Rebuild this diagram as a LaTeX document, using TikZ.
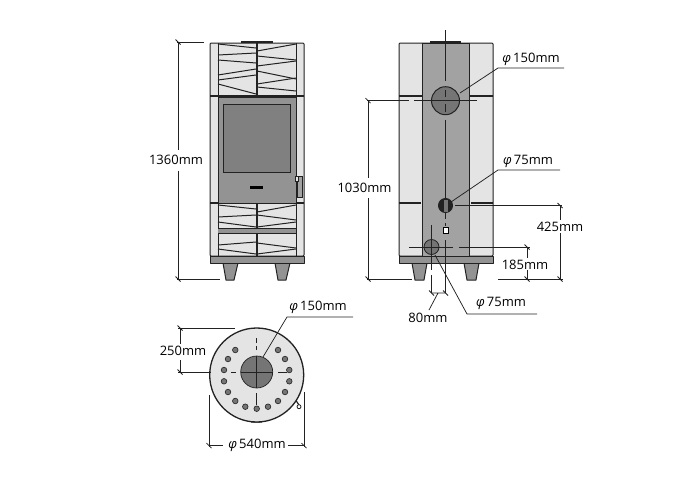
\documentclass[tikz,border=0pt]{standalone}
\usepackage{fontspec}
\setmainfont{Open Sans}
\usetikzlibrary{positioning}
\definecolor{cuerpo}{HTML}{E4E4E4}
\definecolor{centro}{HTML}{A2A2A2}
\definecolor{puerta}{HTML}{939393}
\definecolor{vidrio}{HTML}{808080}
\definecolor{tubo}{HTML}{757575}
\definecolor{linea}{HTML}{222222}
\tikzstyle{contorno} = [draw=linea, line width=1pt, line join=round]
\tikzstyle{zigzag} = [draw=linea, line width=1pt]
\tikzstyle{cota} = [draw=linea, line width=0.75pt]
\tikzstyle{medida} = [text=black, font=\fontsize{13}{15}\selectfont, inner sep=0pt]
\newcommand{\diam}{\textit{φ}\,}
\begin{document}
\begin{tikzpicture}[x=1pt,y=-1pt]
	\useasboundingbox (0,0) rectangle (700,480);
	\fill[white] (0,0) rectangle (700,480);
	% frente
	\foreach \xa/\xb in {223/238,275/290}{
		\pgfmathsetmacro{\xc}{\xa+3}
		\pgfmathsetmacro{\xd}{\xb-4}
		\draw[contorno, fill=puerta] (\xa,263) -- (\xc,280) -- (\xd,280) -- (\xb,263) -- cycle;
	}
	\draw[contorno, fill=cuerpo, rounded corners=1pt] (210,43) rectangle (304,256);
	\draw[contorno, fill=puerta] (210,256) rectangle (304,263);
	\draw[contorno, line width=1.5pt] (241,42) -- (273,42);
	\foreach \ya/\yb in {44/48,55/53,60/63,75/69,80/75,84/94,205/209,217/215,222/227,245/242,249/254}{
		\draw[zigzag] (218,\ya) -- (256,\yb);
	}
	\foreach \ya/\yb in {51/44,56/60,66/61,71/79,84/78,87/91,212/205,215/220,227/222,243/248,254/249}{
		\draw[zigzag] (257,\ya) -- (296,\yb);
	}
	\draw[zigzag] (218,43) -- (218,256) (296,43) -- (296,256);
	\draw[contorno, line width=1.4pt] (257,43) -- (257,96) (257,203) -- (257,256);
	\draw[contorno, line width=1.4pt] (210,96) -- (304,96) (210,203) -- (304,203);
	\draw[contorno, fill=puerta] (218,97) rectangle (296,203);
	\draw[draw=linea, fill=vidrio, line width=0.8pt] (223,104) rectangle (290,172);
	\fill[black] (250,186) rectangle (263,188.5);
	\draw[draw=linea, fill=centro, line width=0.7pt] (297,176) rectangle (302,197);
	\draw[draw=linea, fill=cuerpo, line width=0.5pt] (295,176) rectangle (298,181);
	\fill[puerta] (218,228) rectangle (296,233);
	\draw[zigzag] (218,228) -- (296,228) (218,233) -- (296,233);
	% lado
	\foreach \xa/\xb in {412/427,464/479}{
		\pgfmathsetmacro{\xc}{\xa+3}
		\pgfmathsetmacro{\xd}{\xb-3}
		\draw[contorno, fill=puerta] (\xa,263) -- (\xc,280) -- (\xd,280) -- (\xb,263) -- cycle;
	}
	\draw[contorno, fill=cuerpo, rounded corners=1pt] (399,43) rectangle (493,256);
	\draw[contorno, fill=centro] (422,43) rectangle (469,256);
	\draw[contorno, fill=puerta] (399,256) rectangle (493,263);
	\draw[contorno, line width=1.5pt] (430,42) -- (461,42);
	\draw[contorno, line width=1.4pt] (399,96) -- (422,96) (469,96) -- (493,96) (399,203) -- (421,203) (471,203) -- (493,203);
	\draw[cota] (445.5,30) -- (445.5,81) (445.5,120) -- (445.5,198) (445.5,213) -- (445.5,219) (445.5,240) -- (445.5,293);
	\draw[cota] (445.5,223) -- (445.5,226);
	\draw[contorno, fill=tubo] (445.5,100.7) circle (14);
	\draw[cota] (445.5,90) -- (445.5,97) (445.5,104) -- (445.5,112) (433,100.7) -- (441,100.7) (450,100.7) -- (458,100.7);
	\draw[contorno, line width=1pt, fill=linea] (445.5,205.5) circle (7);
	\fill[tubo] (443.5,199.5) rectangle (447.5,211.5);
	\draw[draw=black, fill=white, line width=1pt] (443,227) rectangle (448,233);
	\draw[contorno, fill=tubo, line width=0.8pt] (431.5,247) circle (7.5);
	\draw[cota] (431.5,225) -- (431.5,270) (431.5,275) -- (431.5,293);
	% planta
	\draw[contorno, line width=1.2pt] (295,399) -- (299,405);
	\draw[contorno, line width=0.8pt, fill=white] (299,406.7) circle (2);
	\fill[tubo] (251,420) rectangle (262,423);
	\draw[contorno, line width=1.3pt, fill=cuerpo] (256.7,375) circle (47);
	\draw[contorno, fill=tubo, line width=0.7pt] (256.7,372) circle (16);
	\foreach \hx/\hy in {235.3/350,228/359,224/370,224/381.3,228/392,235.3/401,245.3/406.7,256.7/408.7,268/406.7,278/401,285/392,289.3/381.3,289.3/370,285/359,278/350}{
		\draw[draw=linea, fill=tubo, line width=0.6pt] (\hx,\hy) circle (2.8);
	}
	\draw[cota] (231,372) -- (236,372) (241,372) -- (272.7,372) (278,372) -- (287,372);
	\draw[cota] (256.7,338) -- (256.7,343) (256.7,346) -- (256.7,350) (256.7,356) -- (256.7,388) (256.7,393) -- (256.7,405);
	% cotas
	\draw[cota] (177,42) -- (204,42) (177,279) -- (220,279);
	\draw[cota] (178,42) -- (178,150) (178,171) -- (178,279);
	\draw[cota] (367,100.7) -- (409,100.7) (414,100.7) -- (477,100.7) (367,279) -- (412,279);
	\draw[cota] (368,100.7) -- (368,178) (368,198) -- (368,279);
	\draw[cota] (409,247) -- (453,247) (459,247) -- (530,247) (455,205.5) -- (562,205.5) (498,279) -- (563,279);
	\draw[cota] (527,247) -- (527,258) (527,270) -- (527,279);
	\draw[cota] (560,205.5) -- (560,220) (560,233) -- (560,279);
	\draw[cota] (431.5,293) -- (445.5,293) (438,293) -- (429,310);
	\draw[cota] (178,328) -- (235,328) (178,372) -- (211,372);
	\draw[cota] (180,328) -- (180,344) (180,360) -- (180,372);
	\draw[cota] (209,395) -- (209,447) (304,392) -- (304,447);
	\draw[cota] (209,445.7) -- (223,445.7) (288,445.7) -- (304,445.7);
	\draw[cota] (460,93) -- (498,68) -- (564,68);
	\draw[cota] (451,202) -- (498,170) -- (560,170);
	\draw[cota] (435,255) -- (467,314) -- (537,314);
	\draw[cota] (263,357) -- (287,317) -- (353,317);
	\foreach \tx/\ty in {178/42,178/279,368/100.7,368/279,527/247,527/279,560/205.5,560/279,431.5/293,445.5/293,180/328,180/372,209/445.7,304/445.7}{
		\draw[cota] (\tx,\ty) ++(-2.5,-2.5) -- ++(5,5);
	}
	\node[medida] (alto) at (176,160) {1360mm};
	\node[medida] (altotubo) at (364.5,188) {1030mm};
	\node[medida] (altosalida) at (560,227) {425mm};
	\node[medida] (altoaire) at (525,264.5) {185mm};
	\node[medida] (separa) at (428,318) {80mm};
	\node[medida] (fondo) at (183,351) {250mm};
	\node[medida] (salidasup) at (531,59) {\diam150mm};
	\node[medida] (salidatras) at (528,161) {\diam75mm};
	\node[medida] (aire) at (501,303) {\diam75mm};
	\node[medida] (salidaplanta) at (318,307.5) {\diam150mm};
	\node[medida] (ancho) at (257,445) {\diam540mm};
\end{tikzpicture}
\end{document}
